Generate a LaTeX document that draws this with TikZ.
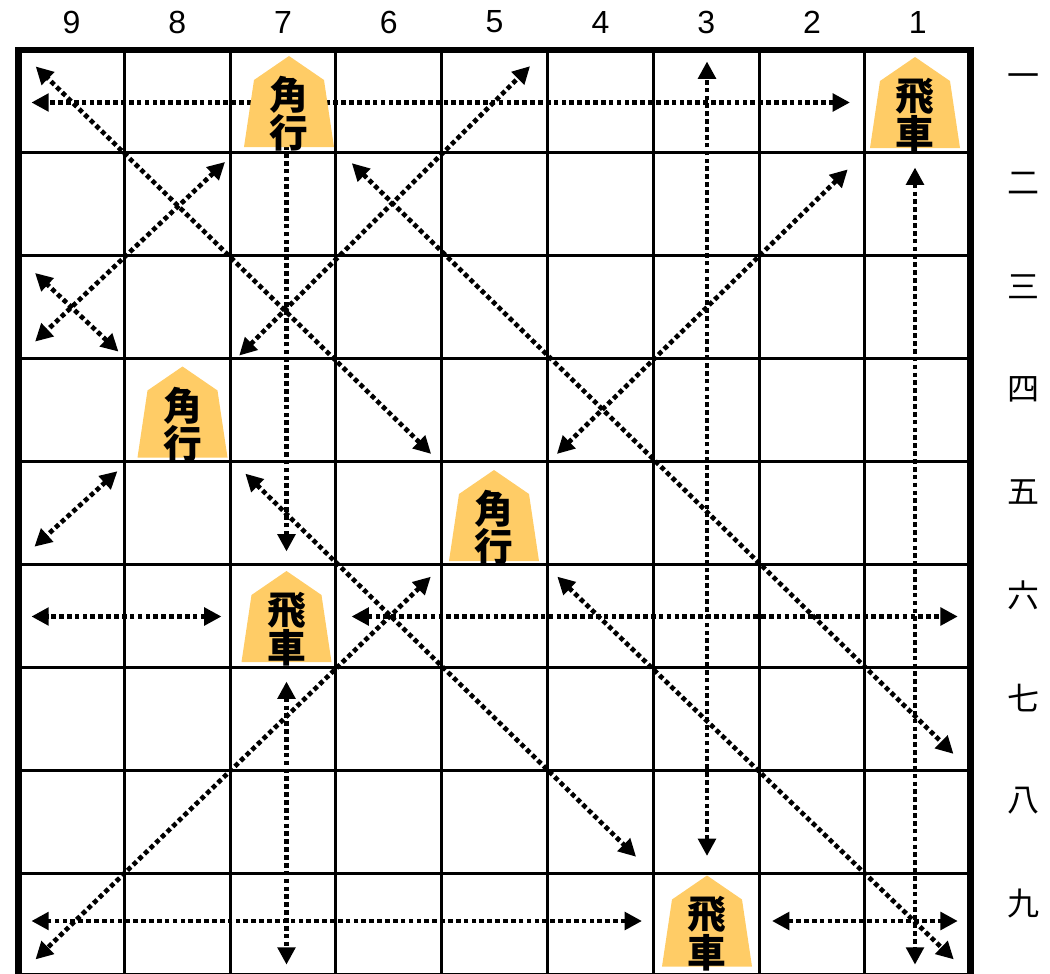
\documentclass[tikz,border=0pt]{standalone}
\usepackage{fontspec}
\setmainfont{Liberation Sans}
\newfontfamily\jpfont{Noto Sans CJK JP}
\usetikzlibrary{arrows.meta,calc,backgrounds}
\definecolor{komaFill}{HTML}{FFCC66}

\tikzset{
  gridline/.style={line width=2.25pt},
  frameline/.style={line width=5pt},
  collabel/.style={font=\fontsize{24pt}{28pt}\selectfont, inner sep=0pt},
  rowlabel/.style={font=\jpfont\fontsize{24pt}{28pt}\selectfont, inner sep=0pt},
  komabody/.style={minimum width=67.5pt, minimum height=68.25pt, inner sep=0pt, outer sep=0pt},
  komatext/.style={font=\jpfont\bfseries\fontsize{29pt}{26.5pt}\selectfont, align=center, inner sep=0pt},
  reach/.style={line width=3.5pt, dash pattern=on 3.5pt off 2.4pt, >={Triangle[length=13pt,width=13pt]}, <->},
  rookmove/.style={reach, shorten <=48.75pt, shorten >=-30pt},
  bishopmove/.style={reach, shorten <=66pt, shorten >=-37.5pt}
}

% piece: name, position, upper char, lower char
\newcommand\koma[4]{%
  \node[komabody] (#1) at #2 {};
  \fill[komaFill] (#1.south west) -- (#1.south east)
    -- ($(#1.north east)+(-10,24)$) -- (#1.north)
    -- ($(#1.north west)+(10,24)$) -- cycle;
  \node[komatext] (#1-label) at ($(#1.center)+(0,12.5)$) {#3\\#4};
}

\begin{document}
\begin{tikzpicture}[x=0.75pt, y=-0.75pt]
\useasboundingbox (0,0) rectangle (1050,974);

% cell centres
\foreach \c in {1,...,9}
  \foreach \r in {1,...,9}
    \coordinate (s\c\r) at ({18.5+105.8*(9-\c)+52.9},{50+102.9*(\r-1)+51.45});

% labels
\foreach \c in {1,...,9}
  \node[collabel] (col\c) at ({18.5+105.8*(9-\c)+52.9},22) {\c};
\foreach \k [count=\r] in {一,二,三,四,五,六,七,八,九}
  \node[rowlabel] (row\r) at (1023,{50+102.9*(\r-1)+30.5}) {\k};

% pieces
\koma{k71}{(289,101.5)}{角}{行}
\koma{k11}{(915,102.5)}{飛}{車}
\koma{k84}{(182.5,412)}{角}{行}
\koma{k55}{(494,515.5)}{角}{行}
\koma{k76}{(286.5,616.5)}{飛}{車}
\koma{k39}{(707,921)}{飛}{車}

\begin{scope}[on background layer]
% board
\foreach \i in {1,...,8}
  \draw[gridline] ({18.5+105.8*\i},50) -- ({18.5+105.8*\i},976.1);
\foreach \j in {1,...,8}
  \draw[gridline] (18.5,{50+102.9*\j}) -- (970.7,{50+102.9*\j});
\draw[frameline] (18.5,50) rectangle (970.7,976.1);

% rooks
\draw[rookmove] (k11.center) -- (s91 |- k11.center);
\draw[rookmove] (k11.center) -- (k11.center |- s19);
\draw[rookmove, shorten >=0pt] (k76.center) -- (k76.center |- k71.center);
\draw[rookmove] (k76.center) -- (k76.center |- s79);
\draw[rookmove] (k76.center) -- (s96 |- k76.center);
\draw[rookmove] (k76.center) -- (s16 |- k76.center);
\draw[rookmove] (k39.center) -- (k39.center |- s31);
\draw[rookmove] (k39.center) -- (s99 |- k39.center);
\draw[rookmove] (k39.center) -- (s19 |- k39.center);

% bishops
\draw[bishopmove] (k71.center) -- (s93);
\draw[bishopmove] (k71.center) -- (s17);
\draw[bishopmove] (k84.center) -- (s93);
\draw[bishopmove, shorten <=60pt] (k84.center) -- (s51);
\draw[bishopmove] (k84.center) -- (s95);
\draw[bishopmove] (k84.center) -- (s48);
\draw[bishopmove] (k55.center) -- (s91);
\draw[bishopmove] (k55.center) -- (s22);
\draw[bishopmove] (k55.center) -- (s99);
\draw[bishopmove] (k55.center) -- (s19);
\end{scope}
\end{tikzpicture}
\end{document}
